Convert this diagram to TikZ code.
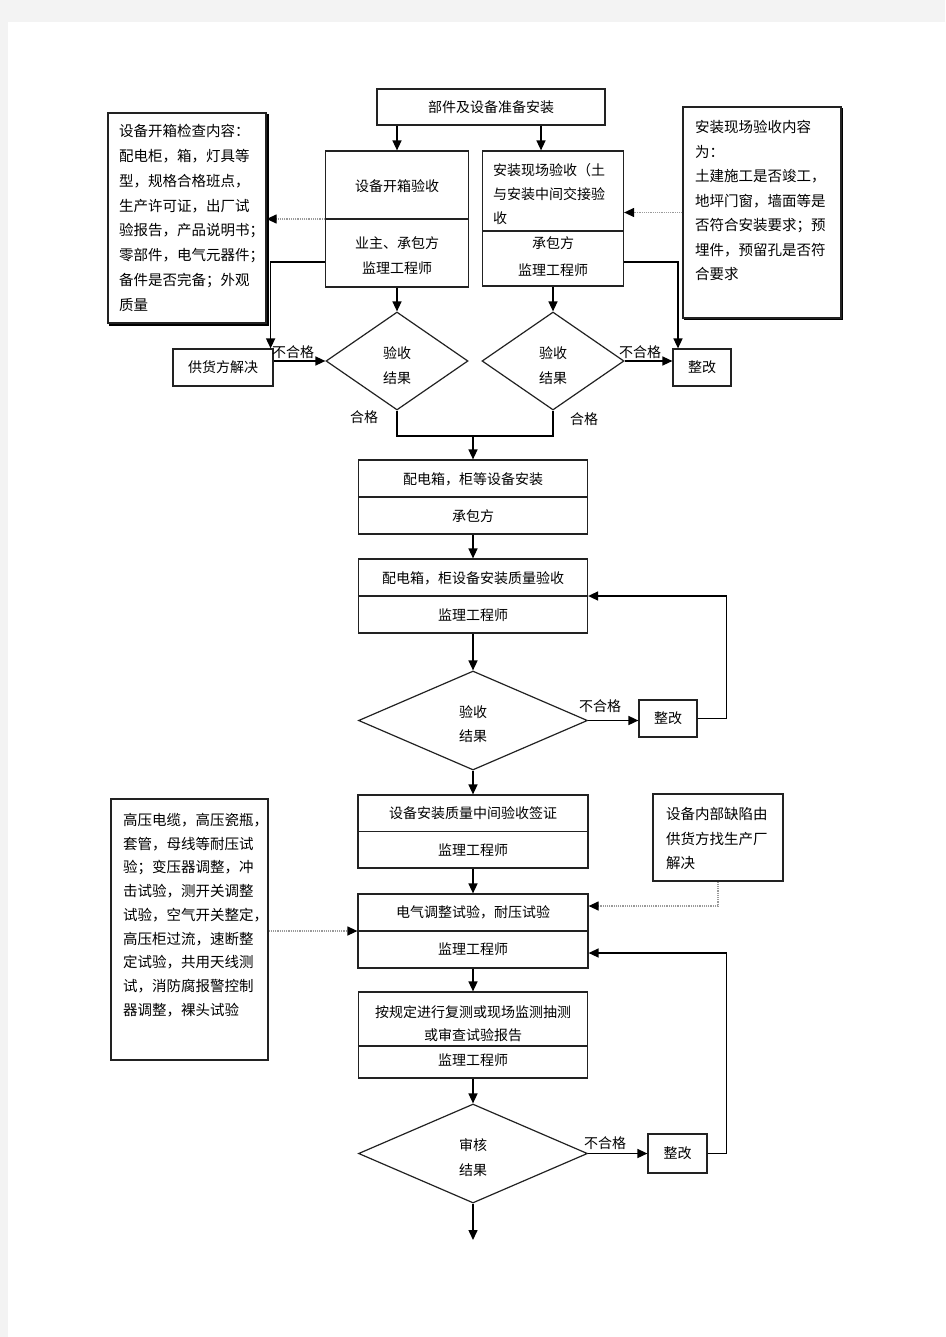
\documentclass[tikz,border=0pt]{standalone}
\usepackage{fontspec}
\setmainfont{Noto Sans CJK SC}
\usetikzlibrary{arrows.meta,shapes.geometric,calc}
\definecolor{pagegray}{HTML}{F3F3F3}
\definecolor{dotgray}{HTML}{9A9A9A}
\definecolor{linegray}{HTML}{222222}
\tikzset{
  box/.style={draw=linegray, line width=1.2pt, inner sep=0pt, fill=white, font=\fontsize{14}{23}\selectfont},
  dia/.style={diamond, draw=linegray, line width=1.2pt, inner sep=0pt, fill=white},
  arr/.style={line width=1.5pt, -{Triangle[length=10pt,width=9pt]}},
  ln/.style={line width=1.5pt},
  divl/.style={draw=linegray, line width=1.2pt},
  dotarr/.style={dotgray, line width=1.2pt, densely dotted, -{Triangle[length=10pt,width=9pt,color=black]}},
  txt/.style={inner sep=0pt, font=\fontsize{14}{23}\selectfont},
  ntxt/.style={inner sep=0pt, align=left, anchor=west},
  shadowl/.style={line width=1.5pt, draw=black}
}
\begin{document}
\begin{tikzpicture}[x=1pt,y=-1pt]
\fill[pagegray] (0,0) rectangle (945,1337);
\fill[white] (8,22) rectangle (945,1337);
\useasboundingbox (0,0) rectangle (945,1337);

% ---------- top ----------
\node[box, minimum width=228pt, minimum height=36pt] (T) at (491,107) {部件及设备准备安装};

% left check box
\node[box, minimum width=143pt, minimum height=136pt] (L1) at (397,219) {};
\draw[divl] (L1.west) -- (L1.east);
\node[txt] (L1a) at (397,186) {设备开箱验收};
\node[txt, align=center, font=\fontsize{14}{25}\selectfont] (L1b) at (397,255.5) {业主、承包方\\监理工程师};

% right check box
\node[box, minimum width=141pt, minimum height=135pt] (R1) at (553,218.5) {};
\draw[divl] ([yshift=-12.5pt]R1.west) -- ([yshift=-12.5pt]R1.east);
\node[txt, align=left, anchor=west, font=\fontsize{14}{24}\selectfont] (R1a) at (493,194) {安装现场验收（土\\与安装中间交接验\\收};
\node[txt, align=center, font=\fontsize{14}{27}\selectfont] (R1b) at (553,256.5) {承包方\\监理工程师};

% notes top
\node[box, minimum width=158pt, minimum height=210pt] (N1) at (187,218) {};
\draw[shadowl] ([xshift=1.5pt,yshift=-2pt]N1.north east) -- ([xshift=1.5pt,yshift=-1.5pt]N1.south east) -- ([xshift=2pt,yshift=-1.5pt]N1.south west);
\node[ntxt, font=\fontsize{14.5}{24.85}\selectfont] (N1t) at (119,218) {设备开箱检查内容：\\配电柜，箱，灯具等\\型，规格合格班点，\\生产许可证，出厂试\\验报告，产品说明书；\\零部件，电气元器件；\\备件是否完备；外观\\质量};

\node[box, minimum width=158pt, minimum height=211pt] (N2) at (762,212.5) {};
\draw[shadowl, line width=0.8pt] ([xshift=1pt,yshift=-2pt]N2.north east) -- ([xshift=1pt,yshift=-1pt]N2.south east) -- ([xshift=2pt,yshift=-1pt]N2.south west);
\node[ntxt, font=\fontsize{14.5}{24.5}\selectfont] (N2t) at (695,200.5) {安装现场验收内容\\为：\\土建施工是否竣工，\\地坪门窗，墙面等是\\否符合安装要求；预\\埋件，预留孔是否符\\合要求};

% supplier / rectify
\node[box, minimum width=100pt, minimum height=37pt] (S) at (223,367.5) {供货方解决};
\node[dia, minimum width=142pt, minimum height=98pt] (D1) at (397,361) {};
\node[txt, align=center, font=\fontsize{14}{25}\selectfont] (D1t) at (397,365.5) {验收\\结果};
\node[dia, minimum width=142pt, minimum height=98pt] (D2) at (553,361) {};
\node[txt, align=center, font=\fontsize{14}{25}\selectfont] (D2t) at (553,365.5) {验收\\结果};
\node[box, minimum width=58pt, minimum height=37pt] (Z1) at (702,367.5) {整改};

\node[txt] (lb1) at (293,352) {不合格};
\node[txt] (lb2) at (640,352) {不合格};
\node[txt] (lb3) at (364,417) {合格};
\node[txt] (lb4) at (584,419) {合格};

% connectors top
\coordinate (r1in) at ([xshift=-12pt]R1.north);
\draw[arr] (T.south -| L1.north) -- (L1.north);
\draw[arr] (r1in |- T.south) -- (r1in);
\draw[dotarr] (L1.west) -- (L1.west -| N1.east);
\draw[dotarr] (N2.west) -- (N2.west -| R1.east);
\coordinate (l1out) at ([yshift=-43pt]L1.west);
\coordinate (sin) at ([xshift=-3pt]S.north east);
\draw[arr] (l1out) -| (sin);
\coordinate (r1out) at ([yshift=-43.5pt]R1.east);
\coordinate (zin) at ([xshift=-24pt]Z1.north);
\draw[arr] (r1out) -| (zin);
\draw[arr] (L1.south) -- (D1.north);
\draw[arr] (R1.south) -- (D2.north);
\draw[arr] (S.east |- D1.west) -- (D1.west);
\draw[arr] (D2.east) -- (D2.east -| Z1.west);
\coordinate (mR) at (553,436);
\coordinate (mC) at (473,436);
\draw[ln] (D1.south) |- (mR) -- (D2.south);

% ---------- middle ----------
\node[box, minimum width=229pt, minimum height=74pt] (A) at (473,497) {};
\draw[divl] (A.west) -- (A.east);
\node[txt] (At) at (473,479) {配电箱，柜等设备安装};
\node[txt] (Ab) at (473,516) {承包方};
\draw[arr] (mC) -- (A.north);

\node[box, minimum width=229pt, minimum height=74pt] (B) at (473,596) {};
\draw[divl] (B.west) -- (B.east);
\node[txt] (Bt) at (473,578) {配电箱，柜设备安装质量验收};
\node[txt] (Bb) at (473,615) {监理工程师};
\draw[arr] (A.south) -- (B.north);

\node[dia, minimum width=229pt, minimum height=99pt] (D3) at (473,720.5) {};
\node[txt, align=center, font=\fontsize{14}{24}\selectfont] (D3t) at (473,724) {验收\\结果};
\draw[arr] (B.south) -- (D3.north);
\node[box, minimum width=58pt, minimum height=37pt] (Z2) at (668,718.5) {整改};
\node[txt] (lb5) at (600,706) {不合格};
\draw[arr] (D3.east) -- (D3.east -| Z2.west);
\draw[arr] (Z2.east) -- ++(29,0) |- (B.east);

\node[box, minimum width=230pt, minimum height=73pt] (C) at (473,831.5) {};
\draw[divl] (C.west) -- (C.east);
\node[txt] (Ct) at (473,813) {设备安装质量中间验收签证};
\node[txt] (Cb) at (473,850) {监理工程师};
\draw[arr] (D3.south) -- (C.north);

\node[box, minimum width=230pt, minimum height=74pt] (D) at (473,931) {};
\draw[divl] (D.west) -- (D.east);
\node[txt] (Dt) at (473,912) {电气调整试验，耐压试验};
\node[txt] (Db) at (473,949) {监理工程师};
\draw[arr] (C.south) -- (D.north);

\node[box, minimum width=229pt, minimum height=86pt] (E) at (473,1035) {};
\draw[divl] ([yshift=-11pt]E.west) -- ([yshift=-11pt]E.east);
\node[txt, align=center] (Et) at (473,1023.5) {按规定进行复测或现场监测抽测\\或审查试验报告};
\node[txt] (Eb) at (473,1060) {监理工程师};
\draw[arr] (D.south) -- (E.north);

\node[dia, minimum width=229pt, minimum height=99pt] (D4) at (473,1153.5) {};
\node[txt, align=center, font=\fontsize{14}{25}\selectfont] (D4t) at (473,1157.5) {审核\\结果};
\draw[arr] (E.south) -- (D4.north);
\node[box, minimum width=59pt, minimum height=39pt] (Z3) at (677.5,1153.5) {整改};
\node[txt] (lb6) at (605,1143) {不合格};
\draw[arr] (D4.east) -- (D4.east -| Z3.west);
\coordinate (dfb) at ([yshift=-22pt]D.east);
\draw[arr] (Z3.east) -- ++(19,0) |- (dfb);
\coordinate (endp) at (473,1240);
\draw[arr] (D4.south) -- (endp);

% notes bottom
\node[box, minimum width=157pt, minimum height=261pt] (N3) at (189.5,929.5) {};
\node[ntxt, font=\fontsize{14.5}{23.75}\selectfont] (N3t) at (123,915) {高压电缆，高压瓷瓶，\\套管，母线等耐压试\\验；变压器调整，冲\\击试验，测开关调整\\试验，空气开关整定，\\高压柜过流，速断整\\定试验，共用天线测\\试，消防腐报警控制\\器调整，裸头试验};
\draw[dotarr] (N3.east |- D.west) -- (D.west);

\node[box, minimum width=130pt, minimum height=87pt] (N4) at (718,837.5) {};
\node[ntxt, font=\fontsize{14.5}{24.5}\selectfont] (N4t) at (666,838.5) {设备内部缺陷由\\供货方找生产厂\\解决};
\coordinate (dIn) at ([yshift=25pt]D.east);
\draw[dotarr] (N4.south) |- (dIn);
\end{tikzpicture}
\end{document}
